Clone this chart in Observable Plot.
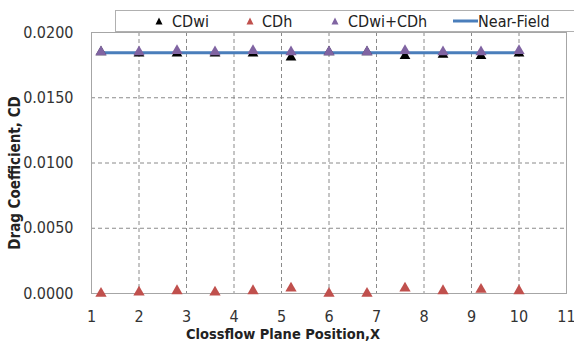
<!DOCTYPE html>
<html>
<head>
<meta charset="utf-8">
<script src="https://cdn.jsdelivr.net/npm/d3@7"></script>
<script src="https://cdn.jsdelivr.net/npm/@observablehq/plot@0.6"></script>
<style>
  html, body { margin: 0; padding: 0; background: #fff; }
  #wrap { position: relative; width: 574px; height: 343px; font-family: "DejaVu Sans Condensed", "DejaVu Sans", sans-serif; }
  #legend {
    position: absolute; left: 115px; top: 10px; width: 470px; height: 20px;
    border: 1px solid #b0b0b0; background: #fff; font-size: 16px; color: #222;
  }
  #legend .item { position: absolute; top: 0; height: 20px; display: flex; align-items: center; white-space: nowrap; }
  #legend svg { display: block; }
</style>
</head>
<body>
<div id="wrap"></div>
<script>
// Crossflow plane positions
const positions = [1.2, 2, 2.8, 3.6, 4.4, 5.2, 6, 6.8, 7.6, 8.4, 9.2, 10];
// Induced drag from the wake integral
const cdwi = [0.0185, 0.0184, 0.0184, 0.0184, 0.0184, 0.0181, 0.0185, 0.0185, 0.0182, 0.0183, 0.0182, 0.0184];
// Profile drag
const cdh = [0.0000, 0.0001, 0.0002, 0.0001, 0.0002, 0.0004, 0.0000, 0.0000, 0.0004, 0.0002, 0.0003, 0.0002];
// Near-field reference value
const nearField = 0.01845;

const xTicks = [1, 2, 3, 4, 5, 6, 7, 8, 9, 10, 11];
const yTicks = [0, 0.005, 0.01, 0.015, 0.02];

const series = [
  {name: "CDwi", color: "#000000"},
  {name: "CDh", color: "#c0504d"},
  {name: "CDwi+CDh", color: "#8064a2"},
  {name: "Near-Field", color: "#4a7ebb"}
];

const rows = positions.map((x, i) => ({x, wi: cdwi[i], h: cdh[i], sum: cdwi[i] + cdh[i]}));
const nearLine = [positions[0], positions[positions.length - 1]].map(x => ({x, y: nearField}));

const fontFamily = "'DejaVu Sans Condensed', 'DejaVu Sans', sans-serif";
const tickFont = {fontSize: 16, fill: "#333", fontFamily};

const chart = Plot.plot({
  width: 574,
  height: 343,
  marginLeft: 91,
  marginRight: 8,
  marginTop: 32,
  marginBottom: 50,
  style: {fontFamily, fontSize: "16px", color: "#333", background: "#fff"},
  x: {domain: [1, 11]},
  y: {domain: [0, 0.02]},
  marks: [
    Plot.gridX(xTicks.slice(1, -1), {stroke: "#8a8a8a", strokeOpacity: 1, strokeDasharray: "4,3"}),
    Plot.gridY(yTicks.slice(1, -1), {stroke: "#8a8a8a", strokeOpacity: 1, strokeDasharray: "4,3"}),
    Plot.frame({stroke: "#a6a6a6"}),
    Plot.axisX({ticks: xTicks, tickSize: 0, tickPadding: 17, label: null, ...tickFont}),
    Plot.axisY({ticks: yTicks, tickSize: 0, tickPadding: 18, tickFormat: d3.format(".4f"), label: null, ...tickFont}),
    Plot.text(["Drag Coefficient, CD"], {frameAnchor: "left", textAnchor: "middle", lineAnchor: "middle", rotate: -90, dx: -76, dy: 10, fontSize: 15, fontWeight: "bold", fill: "#222", fontFamily}),
    Plot.text(["Clossflow Plane Position,X"], {frameAnchor: "bottom", textAnchor: "middle", lineAnchor: "middle", dy: 41, dx: -46, fontSize: 14.5, fontWeight: "bold", fill: "#222", fontFamily}),
    Plot.line(nearLine, {x: "x", y: "y", stroke: series[3].color, strokeWidth: 3}),
    Plot.dot(rows, {x: "x", y: "wi", symbol: "triangle", r: 4, fill: series[0].color, stroke: "none"}),
    Plot.dot(rows, {x: "x", y: "h", symbol: "triangle", r: 4.2, fill: series[1].color, stroke: "none"}),
    Plot.dot(rows, {x: "x", y: "sum", symbol: "triangle", r: 4.2, fill: series[2].color, stroke: "none"})
  ]
});

const wrap = document.getElementById("wrap");
wrap.appendChild(chart);

// Legend box sitting on the top edge of the plot area
const legend = document.createElement("div");
legend.id = "legend";
const itemLeft = [39, 130, 215, 337];
const textGap = [9, 8, 9, 0];
series.forEach((s, i) => {
  const item = document.createElement("div");
  item.className = "item";
  item.style.left = itemLeft[i] + "px";
  let key;
  if (s.name === "Near-Field") {
    key = `<svg width="25" height="10"><line x1="0" y1="5" x2="25" y2="5" stroke="${s.color}" stroke-width="3"/></svg>`;
  } else {
    key = `<svg width="8" height="8"><path d="M4,0.5L7.5,7.5L0.5,7.5Z" fill="${s.color}"/></svg>`;
  }
  item.innerHTML = key + `<span style="margin-left:${textGap[i]}px">${s.name}</span>`;
  legend.appendChild(item);
});
wrap.appendChild(legend);
</script>
</body>
</html>
